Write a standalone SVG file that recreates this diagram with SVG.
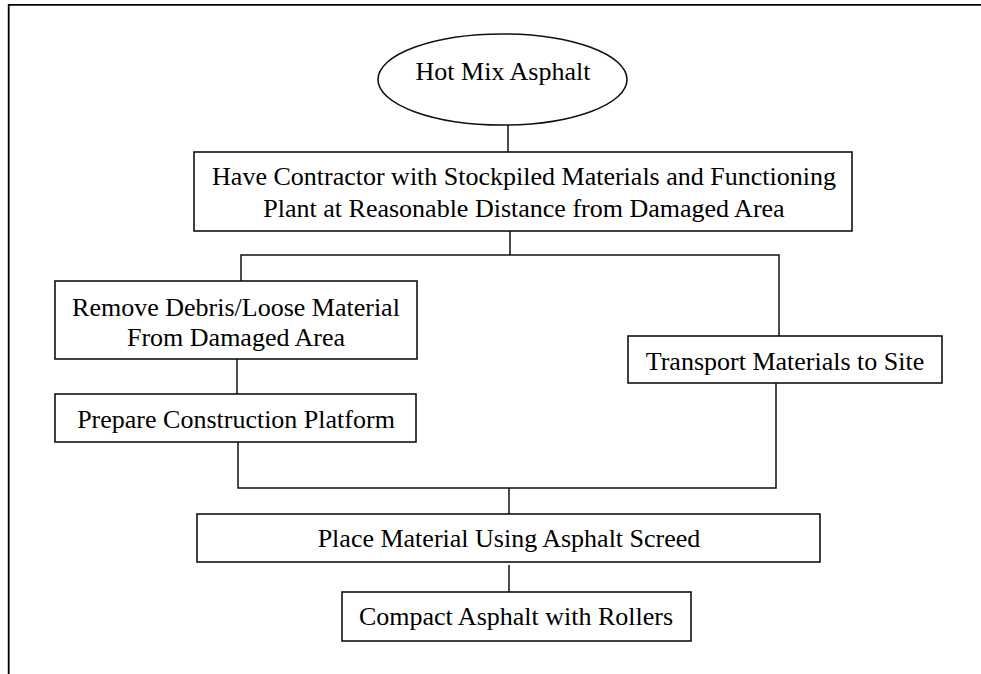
<svg xmlns="http://www.w3.org/2000/svg" width="981" height="674" viewBox="0 0 981 674">
  <style>
    .frame { fill: none; stroke: #000; stroke-width: 1.8; }
    .node { fill: #fff; stroke: #111; stroke-width: 1.6; }
    .link { fill: none; stroke: #111; stroke-width: 1.5; }
    .label { font-family: "Liberation Serif", "Times New Roman", serif; font-size: 26px; fill: #000; text-anchor: middle; }
  </style>
  <rect width="981" height="674" fill="#fff"/>

  <!-- page border (top and left edges) -->
  <path class="frame" d="M8.7 674 V4.9 H981"/>

  <!-- connectors -->
  <g id="connectors">
    <line class="link" x1="508" y1="125" x2="508" y2="152"/>
    <path class="link" d="M510 231 V255"/>
    <path class="link" d="M241 281 V255 H779 V336"/>
    <line class="link" x1="237" y1="359" x2="237" y2="394"/>
    <path class="link" d="M238 442 V488 H776 V383"/>
    <line class="link" x1="509" y1="488" x2="509" y2="514"/>
    <line class="link" x1="509" y1="565" x2="509" y2="592"/>
  </g>

  <g id="hot-mix-asphalt">
    <ellipse class="node" cx="502.5" cy="79.5" rx="124.5" ry="45.5"/>
    <text class="label" x="503" y="80">Hot Mix Asphalt</text>
  </g>

  <g id="have-contractor">
    <rect class="node" x="194" y="152" width="658" height="79"/>
    <text class="label" x="524" y="185">Have Contractor with Stockpiled Materials and Functioning</text>
    <text class="label" x="524" y="217">Plant at Reasonable Distance from Damaged Area</text>
  </g>

  <g id="remove-debris">
    <rect class="node" x="55" y="281" width="362" height="78"/>
    <text class="label" x="236" y="316">Remove Debris/Loose Material</text>
    <text class="label" x="236" y="346">From Damaged Area</text>
  </g>

  <g id="prepare-platform">
    <rect class="node" x="55" y="394" width="361" height="48"/>
    <text class="label" x="236" y="428">Prepare Construction Platform</text>
  </g>

  <g id="transport-materials">
    <rect class="node" x="628" y="336" width="314" height="47"/>
    <text class="label" x="785" y="370">Transport Materials to Site</text>
  </g>

  <g id="place-material">
    <rect class="node" x="197" y="514" width="623" height="48"/>
    <text class="label" x="509" y="547">Place Material Using Asphalt Screed</text>
  </g>

  <g id="compact-asphalt">
    <rect class="node" x="342" y="592" width="349" height="49"/>
    <text class="label" x="516" y="625">Compact Asphalt with Rollers</text>
  </g>
</svg>
